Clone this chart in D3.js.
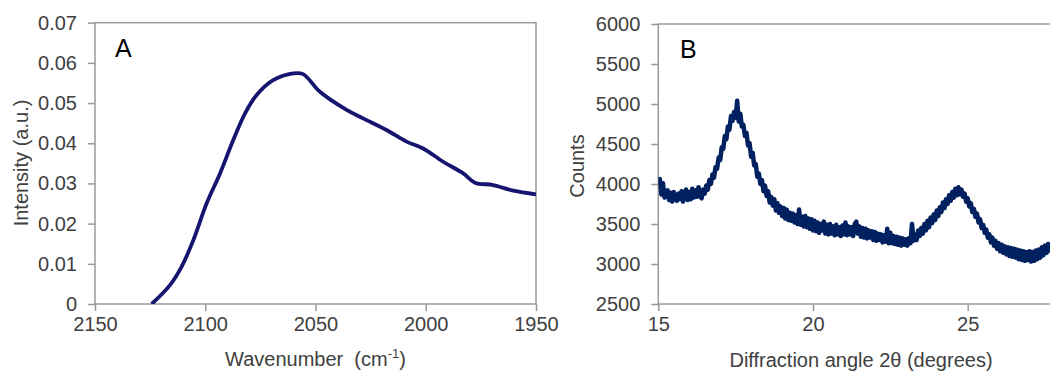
<!DOCTYPE html>
<html>
<head>
<meta charset="utf-8">
<script src="https://cdn.jsdelivr.net/npm/d3@7"></script>
<style>
  html, body { margin: 0; padding: 0; background: #fff; }
  svg { display: block; font-family: "Liberation Sans", Arial, sans-serif; }
</style>
</head>
<body>
<svg id="chart" width="1050" height="373"></svg>
<script>
/* ── Data ───────────────────────────────────────────────────────── */

// Panel A: FTIR band
const ftirWavenumber = [2124.3, 2116, 2110.7, 2105.4, 2099.4, 2093.3, 2087.3, 2082, 2076.7, 2069.2,
  2060.1, 2055.6, 2048, 2035.9, 2028.4, 2017.8, 2008.7, 2001.2, 1992.1, 1983, 1977.7, 1969.4, 1960.3, 1950];
const ftirIntensity = [0, 0.0047, 0.0093, 0.0159, 0.025, 0.0325, 0.0408, 0.0474, 0.052, 0.0557,
  0.0574, 0.0572, 0.0528, 0.0483, 0.0462, 0.0433, 0.0404, 0.0387, 0.0354, 0.0325, 0.0302, 0.0296, 0.0282, 0.0273];
const ftirXTicks = [2150, 2100, 2050, 2000, 1950];
const ftirYTicks = [0, 0.01, 0.02, 0.03, 0.04, 0.05, 0.06, 0.07];

// Panel B: XRD pattern, 0.05° steps from 15°
const xrdStart = 15;
const xrdStep = 0.05;
const xrdCounts = [
  // 15.00 – 15.95
  4040, 4060, 3870, 4010, 3830, 3900, 3920, 3800, 3890, 3780, 3900, 3830, 3790, 3880, 3810, 3910, 3780, 3890, 3930, 3800,
  // 16.00 – 16.95
  3900, 3810, 3940, 3830, 3920, 3840, 3960, 3850, 3820, 3930, 3880, 3980, 3930, 4050, 4000, 4120, 4080, 4210, 4190, 4330,
  // 17.00 – 17.95
  4300, 4460, 4440, 4600, 4560, 4720, 4680, 4850, 4790, 4900, 4830, 5040, 4780, 4880, 4720, 4740, 4600, 4640, 4480, 4510,
  // 18.00 – 18.95
  4340, 4390, 4230, 4250, 4090, 4130, 4000, 4050, 3910, 3980, 3850, 3910, 3770, 3840, 3730, 3810, 3670, 3760, 3640, 3720,
  // 19.00 – 19.95
  3600, 3700, 3570, 3680, 3550, 3640, 3540, 3630, 3520, 3610, 3500, 3680, 3490, 3590, 3470, 3600, 3460, 3570, 3440, 3560,
  // 20.00 – 20.95
  3420, 3540, 3410, 3520, 3390, 3500, 3420, 3530, 3380, 3490, 3370, 3500, 3380, 3470, 3360, 3490, 3370, 3460, 3350, 3480,
  // 21.00 – 21.95
  3370, 3520, 3360, 3470, 3370, 3460, 3350, 3500, 3530, 3380, 3470, 3340, 3450, 3330, 3440, 3320, 3420, 3330, 3410, 3300,
  // 22.00 – 22.95
  3400, 3290, 3380, 3300, 3370, 3270, 3360, 3280, 3440, 3260, 3390, 3260, 3350, 3250, 3340, 3240, 3330, 3230, 3320, 3240,
  // 23.00 – 23.95
  3310, 3230, 3320, 3260, 3500, 3290, 3370, 3300, 3420, 3350, 3450, 3380, 3500, 3420, 3540, 3460, 3580, 3510, 3620, 3550,
  // 24.00 – 24.95
  3670, 3600, 3710, 3650, 3770, 3700, 3810, 3750, 3860, 3790, 3900, 3830, 3940, 3860, 3960, 3870, 3930, 3840, 3880, 3780,
  // 25.00 – 25.95
  3820, 3720, 3760, 3650, 3690, 3590, 3630, 3520, 3560, 3450, 3490, 3390, 3430, 3330, 3370, 3270, 3330, 3230, 3290, 3190,
  // 26.00 – 26.95
  3260, 3160, 3240, 3140, 3220, 3120, 3210, 3100, 3200, 3090, 3190, 3080, 3180, 3060, 3170, 3050, 3160, 3040, 3150, 3050,
  // 27.00 – 27.70
  3160, 3030, 3150, 3040, 3170, 3060, 3180, 3080, 3210, 3110, 3230, 3140, 3250, 3170, 3260
];
const xrdXTicks = [15, 20, 25];
const xrdYTicks = [2500, 3000, 3500, 4000, 4500, 5000, 5500, 6000];

/* ── Styles ─────────────────────────────────────────────────────── */

const AXIS_COLOR = '#9a9a9a';
const TEXT_COLOR = '#404040';
const TICK_FONT = 20;
const TICK_LEN = 7;

const svg = d3.select('#chart');

/* ── Helpers ────────────────────────────────────────────────────── */

function drawFrame(g, x, y, opts) {
  const [x0, x1] = x.range();
  const [y0, y1] = y.range();
  g.append('rect')
    .attr('x', x0).attr('y', y1)
    .attr('width', x1 - x0).attr('height', y0 - y1)
    .attr('fill', 'none')
    .attr('stroke', AXIS_COLOR)
    .attr('stroke-width', 1.5);

  const xAxis = g.append('g')
    .attr('transform', `translate(0,${y0})`)
    .call(d3.axisBottom(x).tickValues(opts.xTicks).tickSize(TICK_LEN).tickPadding(6).tickFormat(opts.xFormat));
  const yAxis = g.append('g')
    .attr('transform', `translate(${x0},0)`)
    .call(d3.axisLeft(y).tickValues(opts.yTicks).tickSize(TICK_LEN).tickPadding(11).tickFormat(opts.yFormat));

  for (const ax of [xAxis, yAxis]) {
    ax.select('.domain').remove();
    ax.selectAll('.tick line').attr('stroke', AXIS_COLOR).attr('stroke-width', 1.5);
    ax.selectAll('.tick text')
      .attr('fill', TEXT_COLOR)
      .attr('font-size', TICK_FONT)
      .attr('font-family', '"Liberation Sans", Arial, sans-serif');
  }
}

/* ── Panel A ────────────────────────────────────────────────────── */

const xA = d3.scaleLinear().domain([2150, 1950]).range([95, 536]);
const yA = d3.scaleLinear().domain([0, 0.07]).range([304, 22.7]);

const gA = svg.append('g');
drawFrame(gA, xA, yA, {
  xTicks: ftirXTicks,
  yTicks: ftirYTicks,
  xFormat: d3.format('d'),
  yFormat: d => d === 0 ? '0' : d3.format('.2f')(d),
});

svg.append('clipPath').attr('id', 'clipA')
  .append('rect').attr('x', 95).attr('y', 22.7).attr('width', 441).attr('height', 281.3);

gA.append('path')
  .datum(ftirWavenumber.map((w, i) => [w, ftirIntensity[i]]))
  .attr('clip-path', 'url(#clipA)')
  .attr('fill', 'none')
  .attr('stroke', '#15156f')
  .attr('stroke-width', 3.8)
  .attr('stroke-linejoin', 'round')
  .attr('d', d3.line().x(d => xA(d[0])).y(d => yA(d[1])).curve(d3.curveCatmullRom));

gA.append('text')
  .attr('x', 115).attr('y', 57)
  .attr('font-size', 25)
  .attr('fill', '#000')
  .text('A');

const titleAx = gA.append('text')
  .attr('x', 315.5).attr('y', 366)
  .attr('text-anchor', 'middle')
  .attr('font-size', 20)
  .attr('fill', TEXT_COLOR);
titleAx.append('tspan').text('Wavenumber\u00a0 (cm');
titleAx.append('tspan').attr('font-size', 13).attr('dy', -8).text('-1');
titleAx.append('tspan').attr('dy', 8).text(')');

gA.append('text')
  .attr('transform', 'translate(28,163) rotate(-90)')
  .attr('text-anchor', 'middle')
  .attr('font-size', 20)
  .attr('fill', TEXT_COLOR)
  .text('Intensity (a.u.)');

/* ── Panel B ────────────────────────────────────────────────────── */

const xB = d3.scaleLinear().domain([15, 28]).range([658.3, 1060.5]);
const yB = d3.scaleLinear().domain([2500, 6000]).range([304, 24]);

const gB = svg.append('g');
drawFrame(gB, xB, yB, {
  xTicks: xrdXTicks,
  yTicks: xrdYTicks,
  xFormat: d3.format('d'),
  yFormat: d3.format('d'),
});

svg.append('clipPath').attr('id', 'clipB')
  .append('rect').attr('x', 658.3).attr('y', 24).attr('width', 402).attr('height', 280);

gB.append('path')
  .datum(xrdCounts.map((c, i) => [xrdStart + i * xrdStep, c]))
  .attr('clip-path', 'url(#clipB)')
  .attr('fill', 'none')
  .attr('stroke', '#002060')
  .attr('stroke-width', 4.5)
  .attr('stroke-linejoin', 'round')
  .attr('d', d3.line().x(d => xB(d[0])).y(d => yB(d[1])));

gB.append('text')
  .attr('x', 680).attr('y', 58)
  .attr('font-size', 25)
  .attr('fill', '#000')
  .text('B');

gB.append('text')
  .attr('x', 861).attr('y', 367)
  .attr('text-anchor', 'middle')
  .attr('font-size', 20)
  .attr('fill', TEXT_COLOR)
  .text('Diffraction angle 2θ (degrees)');

gB.append('text')
  .attr('transform', 'translate(584,166) rotate(-90)')
  .attr('text-anchor', 'middle')
  .attr('font-size', 20)
  .attr('fill', TEXT_COLOR)
  .text('Counts');
</script>
</body>
</html>
